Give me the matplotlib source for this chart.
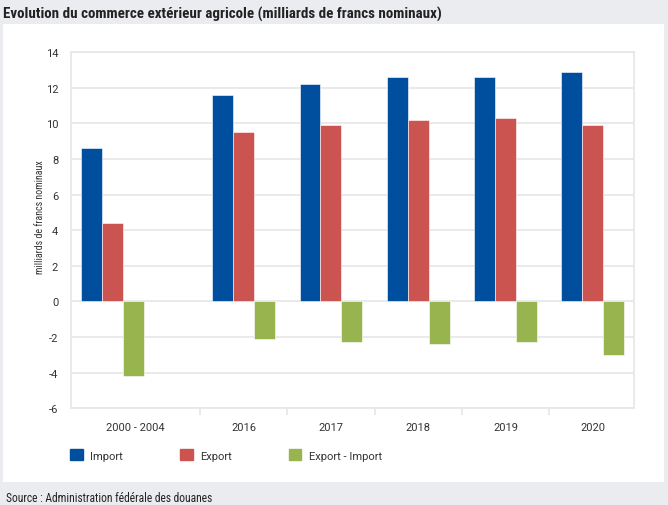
import matplotlib
matplotlib.use("Agg")
import matplotlib.pyplot as plt
import matplotlib.patches as mpatches
import numpy as np

# data (milliards de francs)
periods = ["2000 - 2004", "2016", "2017", "2018", "2019", "2020"]
imports = [8.6, 11.6, 12.2, 12.6, 12.6, 12.9]
exports = [4.4, 9.5, 9.9, 10.2, 10.3, 9.9]
balance = [-4.2, -2.1, -2.3, -2.4, -2.3, -3.0]
series_names = ["Import", "Export", "Export - Import"]
colors = ["#004f9f", "#cc5450", "#97b44e"]

plt.rcParams["font.family"] = ["Roboto", "DejaVu Sans"]
plt.rcParams["axes.unicode_minus"] = False
txt = "#333333"
grid = "#e6e6e6"
cond = ["Roboto Condensed", "DejaVu Sans"]

fig = plt.figure(figsize=(6.68, 5.06), dpi=100, facecolor="#ebecef")
# white panel behind the chart
fig.patches.append(mpatches.Rectangle((3 / 668, 1 - 483 / 506), 661 / 668, 458 / 506,
                                      transform=fig.transFigure, facecolor="white",
                                      edgecolor="none", zorder=-5))

ax = fig.add_axes([0.1058, 0.1911, 0.8433, 0.7036])
ax.set_facecolor("none")

# first group sits in a wider slot
xpos = np.array([0.5, 2, 3, 4, 5, 6])
w = 0.24
for i, (vals, c) in enumerate(zip([imports, exports, balance], colors)):
    ax.bar(xpos + (i - 1) * w, vals, width=w, color=c, edgecolor="white",
           linewidth=0.4, zorder=3, label=series_names[i])

ax.set_xlim(0.019, 6.471)
ax.set_ylim(-6, 14)
ax.set_yticks(range(-6, 15, 2))
ax.yaxis.grid(True, color=grid, linewidth=1.2, zorder=0)
ax.set_axisbelow(True)
ax.tick_params(axis="y", length=0, pad=9, labelsize=8, labelcolor=txt)

# category labels and separators
label_x = [0.756, 2, 3, 4, 5, 6]
ax.set_xticks(label_x)
ax.set_xticklabels(periods)
ax.tick_params(axis="x", length=0, pad=10, labelsize=8, labelcolor=txt)
ax.set_xticks([1.5, 2.5, 3.5, 4.5, 5.5], minor=True)
ax.tick_params(axis="x", which="minor", length=5, color=grid, width=1.2)

for s in ax.spines.values():
    s.set_color(grid)
    s.set_linewidth(1.2)

fig.text(40 / 668, 1 - 217 / 506, "milliards de francs nominaux", rotation=90,
         ha="center", va="center", fontsize=7.2, color=txt, family=cond)

handles = [mpatches.Patch(color=c) for c in colors]
fig.legend(handles, series_names, loc="center left", bbox_to_anchor=(60 / 668, 1 - 456 / 506),
           ncol=3, frameon=False, fontsize=8, handlelength=1.14, handleheight=1.14,
           handletextpad=0.7, columnspacing=5.1, labelcolor=txt)

fig.text(3 / 668, 1 - 14 / 506, "Evolution du commerce extérieur agricole (milliards de francs nominaux)",
         ha="left", va="center", fontsize=10.8, fontweight="bold", color="#222222", family=cond)
fig.text(6 / 668, 1 - 499 / 506, "Source : Administration fédérale des douanes",
         ha="left", va="center", fontsize=8.3, color="#222222", family=cond)

fig.savefig("out.png", dpi=100, facecolor=fig.get_facecolor())
